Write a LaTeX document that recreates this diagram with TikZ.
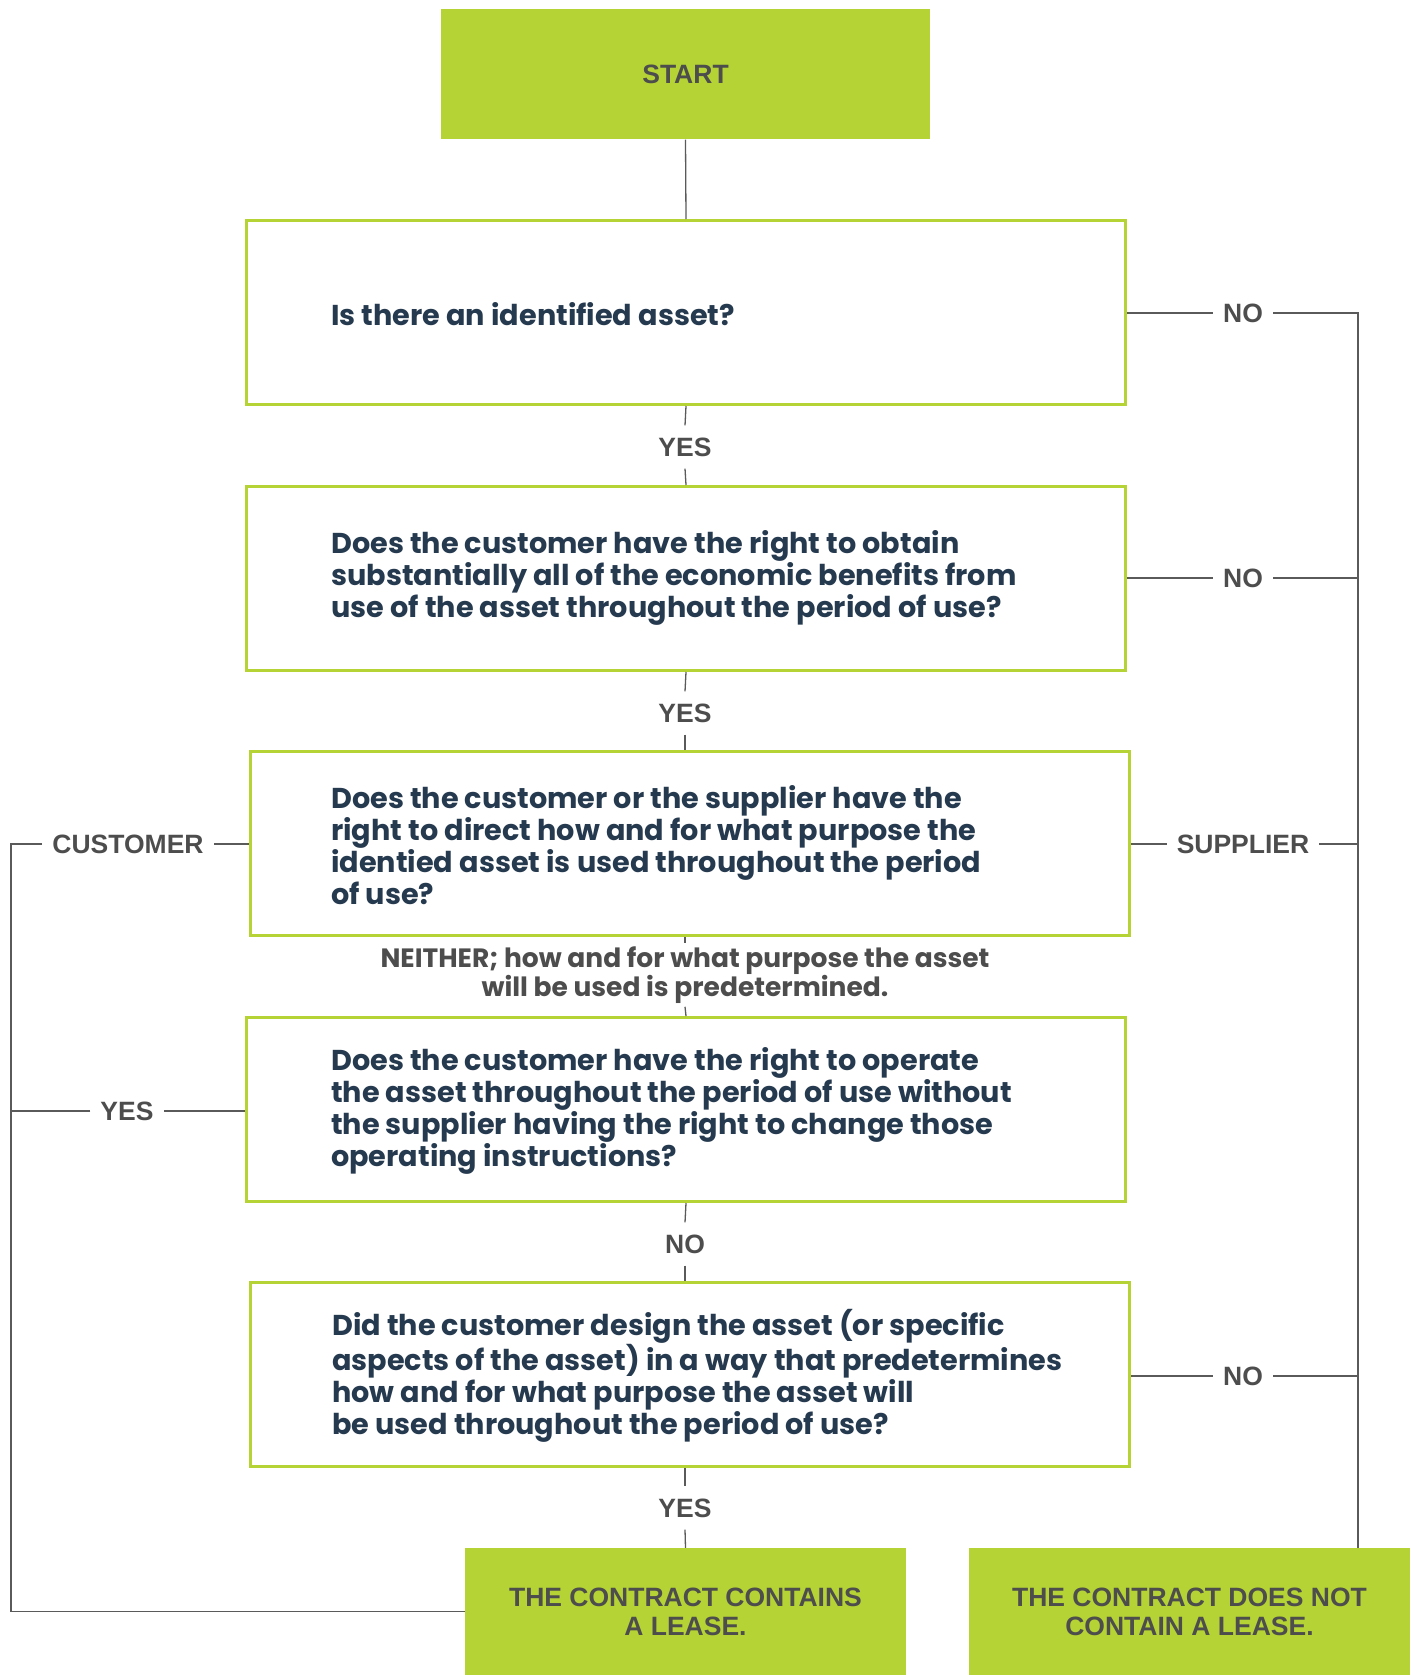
\documentclass[tikz,border=0pt]{standalone}
\usepackage{fontspec}
\setmainfont{Liberation Sans}
\newfontfamily\qfont{Poppins}
\definecolor{lgreen}{HTML}{B5D334}
\definecolor{navy}{HTML}{263A4F}
\definecolor{lgray}{HTML}{4D4D4D}
\definecolor{lineg}{HTML}{5A5A5A}
\begin{document}
\begin{tikzpicture}[x=1pt,y=-1pt,
 gbox/.style={fill=lgreen, draw=none, inner sep=0pt, align=center, text=lgray, font=\fontsize{26.5}{29}\selectfont\bfseries, minimum width=441pt, minimum height=127pt},
 qbox/.style={draw=lgreen, line width=3pt, minimum width=879pt, minimum height=184pt, inner sep=0pt, fill=white},
 qtext/.style={anchor=west, align=left, text=navy, inner sep=0pt, font=\qfont\bfseries\fontsize{28.7}{32}\selectfont},
 lab/.style={text=lgray, font=\fontsize{26.5}{29}\selectfont\bfseries, inner xsep=10pt, inner ysep=12pt},
 conn/.style={draw=lineg, line width=1.3pt}
]
\useasboundingbox (0,0) rectangle (1411,1675);

\node[gbox, minimum width=489pt, minimum height=130pt] (start) at (685.5,74.5) {START};

\node[qbox] (b1) at (686,312.5) {};
\node[qbox] (b2) at (686,578.5) {};
\node[qbox] (b3) at (690,843.5) {};
\node[qbox] (b4) at (686,1109.5) {};
\node[qbox] (b5) at (690,1374.5) {};

\node[qtext] (t1) at (331,314) {Is there an identified asset?};
\node[qtext] (t2) at (331,578) {Does the customer have the right to obtain\\substantially all of the economic benefits from\\use of the asset throughout the period of use?};
\node[qtext] (t3) at (331,845) {Does the customer or the supplier have the\\right to direct how and for what purpose the\\identied asset is used throughout the period\\of use?};
\node[qtext] (t4) at (331,1111) {Does the customer have the right to operate\\the asset throughout the period of use without\\the supplier having the right to change those\\operating instructions?};
\node[qtext] (t5) at (332,1376) {Did the customer design the asset (or specific\\aspects of the asset) in a way that predetermines\\how and for what purpose the asset will\\be used throughout the period of use?};

\node[gbox] (lease) at (685.5,1611.5) {THE CONTRACT CONTAINS\\A LEASE.};
\node[gbox] (nolease) at (1189.5,1611.5) {THE CONTRACT DOES NOT\\CONTAIN A LEASE.};

% labels
\node[lab] (y1) at (685,447) {YES};
\node[lab] (y2) at (685,713) {YES};
\node[lab, align=center, inner ysep=3pt, font=\qfont\bfseries\fontsize{26.5}{25}\selectfont] (nei) at (685,975) {NEITHER; how and for what purpose the asset\\will be used is predetermined.};
\node[lab] (n4) at (685,1244) {NO};
\node[lab] (y5) at (685,1508) {YES};

\node[lab] (nr1) at (1243,313) {NO};
\node[lab] (nr2) at (1243,578) {NO};
\node[lab] (sup) at (1243,844) {SUPPLIER};
\node[lab] (nr5) at (1243,1376) {NO};

\node[lab] (cust) at (128,844) {CUSTOMER};
\node[lab] (yl) at (127,1111) {YES};

\coordinate (rx) at (1358,313);
\coordinate (lx) at (11,844);

% vertical spine
\draw[conn] (start.south) -- (b1.north);
\draw[conn] (b1.south) -- (y1.north);
\draw[conn] (y1.south) -- (b2.north);
\draw[conn] (b2.south) -- (y2.north);
\draw[conn] (y2.south) -- (y2.south |- b3.north);
\draw[conn] (b3.south -| nei) -- (nei.north);
\draw[conn] (nei.south) -- (b4.north);
\draw[conn] (b4.south) -- (n4.north);
\draw[conn] (n4.south) -- (n4.south |- b5.north);
\draw[conn] (b5.south -| y5) -- (y5.north);
\draw[conn] (y5.south) -- (lease.north);

% right side
\draw[conn] (b1.east |- nr1) -- (nr1.west);
\draw[conn] (nr1.east) -- (rx) -- (rx |- nolease.north);
\draw[conn] (b2.east |- nr2) -- (nr2.west);
\draw[conn] (nr2.east) -- (nr2 -| rx);
\draw[conn] (b3.east |- sup) -- (sup.west);
\draw[conn] (sup.east) -- (sup -| rx);
\draw[conn] (b5.east |- nr5) -- (nr5.west);
\draw[conn] (nr5.east) -- (nr5 -| rx);

% left side
\draw[conn] (b3.west |- cust) -- (cust.east);
\draw[conn] (cust.west) -- (lx) -- (lx |- lease.west) -- (lease.west);
\draw[conn] (b4.west |- yl) -- (yl.east);
\draw[conn] (yl.west) -- (yl -| lx);
\end{tikzpicture}
\end{document}
